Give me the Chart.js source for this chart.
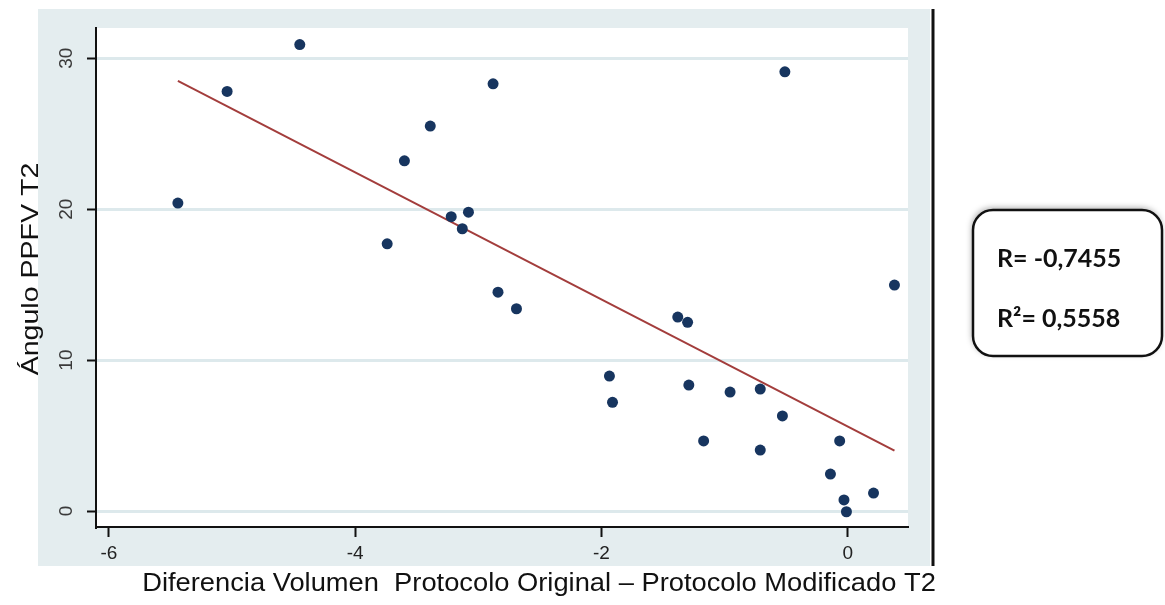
<!DOCTYPE html>
<html>
<head>
<meta charset="utf-8">
<script src="https://cdn.jsdelivr.net/npm/chart.js@4.4.0/dist/chart.umd.min.js"></script>
<style>
  html, body { margin: 0; padding: 0; background: #fff; }
  #wrap { position: relative; width: 1165px; height: 605px; }
</style>
</head>
<body>
<div id="wrap"><canvas id="myChart"></canvas></div>
<script>
// values
const diffX = [-4.45, -5.04, -5.44, -2.88, -0.51, -3.39, -3.60, -3.22, -3.08, -3.13,
               -3.74, -2.84, -2.69, -1.38, -1.30, -1.935, -1.91, -1.29, -0.955, -0.71,
               -1.17, -0.71, -0.53, -0.065, -0.14, -0.03, -0.01, 0.21, 0.38];
const anguloY = [30.9, 27.8, 20.4, 28.3, 29.1, 25.5, 23.2, 19.5, 19.8, 18.7,
                 17.7, 14.5, 13.4, 12.85, 12.5, 8.94, 7.2, 8.34, 7.88, 8.08,
                 4.64, 4.04, 6.3, 4.64, 2.45, 0.73, -0.05, 1.19, 14.97];
const fitX = [-5.44, 0.38];
const fitY = [28.5, 4.0];
const xTicks = [-6, -4, -2, 0];
const yTicks = [0, 10, 20, 30];
const xTitle = 'Diferencia Volumen  Protocolo Original \u2013 Protocolo Modificado T2';
const yTitle = '\u00c1ngulo PPFV T2';
const statLines = ['R= -0,7455', 'R\u00b2= 0,5558'];

function myLoadFunction() {
    const ctx = document.getElementById('myChart').getContext('2d');

    const bgPlugin = {
        id: 'bgPlugin',
        beforeDraw(chart) {
            const c = chart.ctx, a = chart.chartArea;
            c.save();
            c.fillStyle = '#e4edef';
            c.fillRect(38, 9, 930 - 38, 566 - 9);
            c.fillStyle = '#ffffff';
            c.fillRect(a.left, a.top, a.right - a.left, a.bottom - a.top);
            c.restore();
        },
        afterDraw(chart) {
            const c = chart.ctx;
            const ys = chart.scales.y;
            c.save();
            // right border line
            c.strokeStyle = '#111';
            c.lineWidth = 3;
            c.beginPath();
            c.moveTo(933, 9);
            c.lineTo(933, 566);
            c.stroke();

            // rotated y tick labels
            c.fillStyle = '#3a3a3a';
            c.font = '19px "Liberation Sans", Arial, sans-serif';
            c.textAlign = 'center';
            c.textBaseline = 'middle';
            yTicks.forEach(v => {
                c.save();
                c.translate(67, ys.getPixelForValue(v));
                c.rotate(-Math.PI / 2);
                c.fillText(String(v), 0, 0);
                c.restore();
            });

            // axis titles (text is a bit stretched in the original)
            c.fillStyle = '#111';
            c.font = '24px "Liberation Sans", Arial, sans-serif';
            c.save();
            c.translate(31, 269);
            c.rotate(-Math.PI / 2);
            c.scale(1.19, 1);
            c.fillText(yTitle, 0, 0);
            c.restore();
            c.font = '26px "Liberation Sans", Arial, sans-serif';
            c.save();
            c.translate(539, 584);
            c.scale(1.05, 1);
            c.fillText(xTitle, 0, 0);
            c.restore();

            // stats box
            c.save();
            c.shadowColor = 'rgba(0,0,0,0.35)';
            c.shadowBlur = 6;
            c.shadowOffsetY = -2;
            c.shadowOffsetX = -1;
            c.fillStyle = '#fff';
            c.beginPath();
            c.roundRect(973, 210, 189, 146, 20);
            c.fill();
            c.restore();
            c.strokeStyle = '#111';
            c.lineWidth = 2.5;
            c.beginPath();
            c.roundRect(973, 210, 189, 146, 20);
            c.stroke();
            c.fillStyle = '#111';
            c.font = 'bold 25px Lato, "Open Sans", sans-serif';
            c.textAlign = 'left';
            c.textBaseline = 'alphabetic';
            c.fillText(statLines[0], 997, 267);
            c.fillText(statLines[1], 997, 327);
            c.restore();
        }
    };

    const pts = diffX.map((x, i) => ({ x: x, y: anguloY[i] }));
    const fit = fitX.map((x, i) => ({ x: x, y: fitY[i] }));

    var chartConfig = {
        type: 'scatter',
        data: {
            datasets: [{
                data: pts,
                backgroundColor: '#17355f',
                borderWidth: 0,
                pointRadius: 5.5,
                order: 1
            }, {
                type: 'line',
                data: fit,
                borderColor: '#a33d3c',
                borderWidth: 2,
                pointRadius: 0,
                fill: false,
                order: 2
            }]
        },
        options: {
            responsive: true,
            maintainAspectRatio: false,
            animation: false,
            layout: { padding: { left: 0, right: 257, top: 28, bottom: 0 } },
            plugins: { legend: { display: false }, tooltip: { enabled: false } },
            scales: {
                x: {
                    type: 'linear',
                    min: -6.105,
                    max: 0.49,
                    afterBuildTicks: s => { s.ticks = xTicks.map(v => ({ value: v })); },
                    afterFit: s => { s.height = 78; },
                    grid: { drawOnChartArea: false, tickColor: '#111', tickLength: 10, tickWidth: 2 },
                    border: { color: '#111', width: 2 },
                    ticks: {
                        color: '#222',
                        padding: 5,
                        maxRotation: 0,
                        font: { size: 19, family: '"Liberation Sans", Arial, sans-serif' }
                    }
                },
                y: {
                    min: -1.06,
                    max: 32,
                    afterBuildTicks: s => { s.ticks = yTicks.map(v => ({ value: v })); },
                    afterFit: s => { s.width = 96; },
                    grid: { color: '#dde9ec', lineWidth: 3, tickColor: '#111', tickLength: 9, tickWidth: 2 },
                    border: { color: '#111', width: 2 },
                    ticks: { display: false }
                }
            }
        },
        plugins: [bgPlugin]
    };

    const myChart = new Chart(ctx, chartConfig);
}

document.addEventListener('DOMContentLoaded', myLoadFunction);
</script>
</body>
</html>
